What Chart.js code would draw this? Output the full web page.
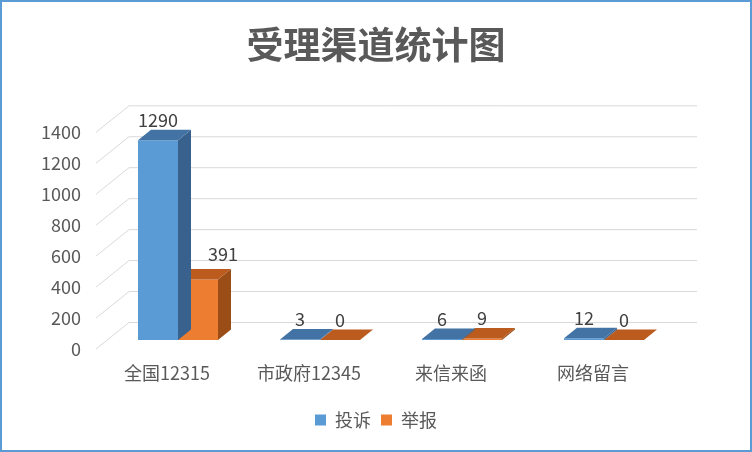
<!DOCTYPE html>
<html>
<head>
<meta charset="utf-8">
<script src="https://cdn.jsdelivr.net/npm/chart.js@4.4.0/dist/chart.umd.min.js"></script>
<style>
  html, body { margin: 0; padding: 0; background: #fff; }
  #wrap { width: 752px; height: 452px; }
</style>
</head>
<body>
<div id="wrap"><canvas id="channelChart" width="752" height="452"></canvas></div>
<script>
const chartTitle = "受理渠道统计图";
const channels = ["全国12315", "市政府12345", "来信来函", "网络留言"];
const complaints = [1290, 3, 6, 12];
const reports = [391, 0, 9, 0];
const seriesNames = ["投诉", "举报"];
const yTicks = [0, 200, 400, 600, 800, 1000, 1200, 1400];

const palette = {
  blue: "#5b9bd5",
  blueTop: "#4373a5",
  blueSide: "#39618d",
  orange: "#ed7d31",
  orangeTop: "#bb5b1e",
  orangeSide: "#9a4d16",
  grid: "#d9d9d9",
  text: "#595959",
  label: "#404040",
  frame: "#5b9bd5",
};

const fontFamily = "'Noto Sans CJK SC', 'Noto Sans', sans-serif";
const depth = { dx: 13, dy: 10.5 };       // bar depth
const wallBack = { dx: 22, dy: -17.5 };   // back wall from bar front
const wallFront = { dx: -11, dy: 9 };     // floor front edge from bar front
// Excel moved the 391 label aside (key: category-dataset)
const labelNudge = { "0-1": { x: 25, y: -5 } };

const faceColors = [
  { top: palette.blueTop, side: palette.blueSide },
  { top: palette.orangeTop, side: palette.orangeSide },
];

const box3d = {
  id: "box3d",
  beforeDatasetsDraw(chart) {
    const { ctx, chartArea, scales } = chart;
    ctx.save();
    ctx.strokeStyle = palette.grid;
    ctx.lineWidth = 1;
    yTicks.forEach((v) => {
      const y = scales.y.getPixelForValue(v);
      ctx.beginPath();
      ctx.moveTo(chartArea.left + wallFront.dx, y + wallFront.dy);
      ctx.lineTo(chartArea.left + wallBack.dx, y + wallBack.dy);
      ctx.lineTo(chartArea.right + wallBack.dx, y + wallBack.dy);
      ctx.stroke();
    });
    ctx.restore();
  },
  afterDatasetDraw(chart, args) {
    const { ctx } = chart;
    const colors = faceColors[args.index];
    ctx.save();
    args.meta.data.forEach((bar) => {
      const { x, y, base, width } = bar.getProps(["x", "y", "base", "width"], true);
      const l = x - width / 2;
      const r = x + width / 2;
      ctx.fillStyle = colors.side;
      ctx.beginPath();
      ctx.moveTo(r, y);
      ctx.lineTo(r + depth.dx, y - depth.dy);
      ctx.lineTo(r + depth.dx, base - depth.dy);
      ctx.lineTo(r, base);
      ctx.closePath();
      ctx.fill();
      ctx.fillStyle = colors.top;
      ctx.beginPath();
      ctx.moveTo(l, y);
      ctx.lineTo(r, y);
      ctx.lineTo(r + depth.dx, y - depth.dy);
      ctx.lineTo(l + depth.dx, y - depth.dy);
      ctx.closePath();
      ctx.fill();
    });
    ctx.restore();
  },
  afterDatasetsDraw(chart) {
    const { ctx } = chart;
    ctx.save();
    ctx.font = `18px ${fontFamily}`;
    ctx.fillStyle = palette.label;
    ctx.textAlign = "center";
    ctx.textBaseline = "middle";
    chart.data.datasets.forEach((ds, di) => {
      chart.getDatasetMeta(di).data.forEach((bar, i) => {
        const nudge = labelNudge[`${i}-${di}`] || { x: 0, y: 0 };
        ctx.fillText(String(ds.data[i]), bar.x + nudge.x, bar.y - 20 + nudge.y);
      });
    });
    ctx.restore();
  },
  afterDraw(chart) {
    const { ctx } = chart;
    ctx.save();
    ctx.strokeStyle = palette.frame;
    ctx.lineWidth = 2;
    ctx.strokeRect(1, 1, chart.width - 2, chart.height - 2);
    ctx.restore();
  },
};

new Chart(document.getElementById("channelChart"), {
  type: "bar",
  data: {
    labels: channels,
    datasets: [
      { label: seriesNames[0], data: complaints, backgroundColor: palette.blue },
      { label: seriesNames[1], data: reports, backgroundColor: palette.orange },
    ],
  },
  options: {
    responsive: false,
    animation: false,
    events: [],
    layout: { padding: { left: 0, right: 0, top: 0, bottom: 13 } },
    datasets: {
      bar: { categoryPercentage: 80 / 142, barPercentage: 1, borderWidth: 0 },
    },
    scales: {
      x: {
        grid: { display: false, drawTicks: false },
        border: { display: false },
        ticks: {
          color: palette.text,
          font: { family: fontFamily, size: 18 },
          padding: 22,
          labelOffset: -11,
          maxRotation: 0,
        },
        afterFit(scale) { scale.height = 61; },
      },
      y: {
        min: 0,
        max: 1400,
        grid: { display: false, drawTicks: false },
        border: { display: false },
        ticks: {
          stepSize: 200,
          color: palette.text,
          font: { family: fontFamily, size: 18 },
          padding: 26,
          labelOffset: 9,
          callback: (value) => String(value),
        },
        afterFit(scale) { scale.width = 107; },
      },
      // empty right axis only keeps room for the 3D wall
      yRight: {
        position: "right",
        grid: { display: false, drawTicks: false },
        border: { display: false },
        ticks: { display: false },
        afterFit(scale) { scale.width = 77; },
      },
    },
    plugins: {
      title: {
        display: true,
        text: chartTitle,
        color: palette.text,
        font: { family: fontFamily, size: 37, weight: "bold" },
        padding: { top: 22.8, bottom: 56.1 },
      },
      legend: {
        position: "bottom",
        labels: {
          boxWidth: 11,
          boxHeight: 11,
          padding: 10,
          color: palette.text,
          font: { family: fontFamily, size: 18 },
        },
      },
      tooltip: { enabled: false },
    },
  },
  plugins: [box3d],
});
</script>
</body>
</html>
